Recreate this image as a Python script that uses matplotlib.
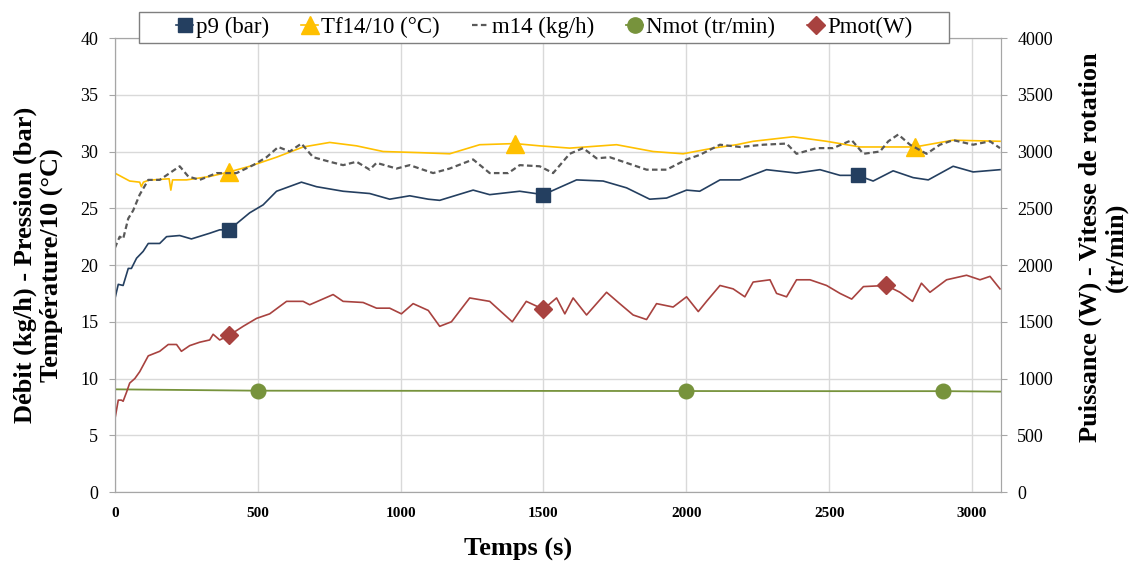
import numpy as np
import matplotlib
matplotlib.use("Agg")
import matplotlib.pyplot as plt
from matplotlib.lines import Line2D
from matplotlib.patches import Rectangle

plt.rcParams['font.family'] = ['Liberation Serif', 'DejaVu Serif']

# p9 (bar)
t_p9 = [0, 12, 29, 47, 58, 76, 99, 117, 157, 181, 227, 268, 332, 367, 400, 472, 519, 566, 653, 706,
        799, 892, 962, 1032, 1097, 1137, 1254, 1312, 1417, 1500, 1616, 1709, 1791, 1872, 1931, 2001,
        2047, 2118, 2188, 2281, 2386, 2468, 2538, 2600, 2654, 2724, 2794, 2847, 2934, 3004, 3098]
p9 = [17.0, 18.3, 18.2, 19.7, 19.7, 20.6, 21.2, 21.9, 21.9, 22.5, 22.6, 22.3, 22.8, 23.1, 23.1, 24.6,
      25.3, 26.5, 27.3, 26.9, 26.5, 26.3, 25.8, 26.1, 25.8, 25.7, 26.6, 26.2, 26.5, 26.2, 27.5, 27.4,
      26.8, 25.8, 25.9, 26.6, 26.5, 27.5, 27.5, 28.4, 28.1, 28.4, 27.9, 27.9, 27.4, 28.3, 27.7, 27.5,
      28.7, 28.2, 28.4]

# Tf14/10 (degC)
t_tf = [0, 52, 87, 93, 100, 122, 134, 190, 196, 202, 251, 332, 400, 472, 566, 659, 752, 846, 939,
        1067, 1172, 1277, 1400, 1487, 1592, 1756, 1884, 1989, 2094, 2176, 2234, 2374, 2491, 2608,
        2701, 2800, 2934, 3098]
tf = [28.1, 27.4, 27.3, 26.9, 27.3, 27.5, 27.5, 27.6, 26.6, 27.5, 27.5, 27.8, 28.2, 28.7, 29.5, 30.4,
      30.8, 30.5, 30.0, 29.9, 29.8, 30.6, 30.7, 30.5, 30.3, 30.6, 30.0, 29.8, 30.3, 30.6, 30.9, 31.3,
      30.9, 30.4, 30.4, 30.4, 31.0, 30.9]

# m14 (kg/h)
t_m14 = [0, 17, 29, 47, 64, 87, 117, 157, 192, 227, 257, 297, 356, 379, 426, 484, 531, 572, 612, 653,
         694, 752, 799, 846, 892, 916, 986, 1032, 1067, 1114, 1172, 1254, 1312, 1377, 1417, 1487,
         1534, 1592, 1639, 1686, 1732, 1791, 1861, 1931, 2001, 2047, 2118, 2188, 2270, 2351, 2386,
         2456, 2514, 2579, 2620, 2678, 2707, 2742, 2783, 2841, 2888, 2934, 3004, 3063, 3098]
m14 = [21.5, 22.5, 22.3, 24.1, 24.8, 26.2, 27.5, 27.5, 28.1, 28.7, 27.8, 27.5, 28.1, 28.1, 28.1, 28.8,
       29.5, 30.4, 30.0, 30.7, 29.5, 29.1, 28.8, 29.1, 28.4, 29.0, 28.5, 28.8, 28.5, 28.1, 28.5, 29.3,
       28.1, 28.1, 28.8, 28.7, 28.1, 29.8, 30.3, 29.4, 29.5, 29.0, 28.4, 28.4, 29.3, 29.7, 30.6, 30.4,
       30.6, 30.7, 29.8, 30.3, 30.3, 31.0, 29.8, 30.0, 30.9, 31.5, 30.6, 29.8, 30.6, 31.0, 30.6, 30.9,
       30.3]

# Nmot (tr/min)
t_nmot = [0, 500, 1000, 1500, 2000, 2500, 2900, 3100]
nmot = [905, 893, 892, 891, 890, 889, 889, 885]

# Pmot (W)
t_pmot = [0, 12, 23, 29, 41, 52, 70, 87, 117, 157, 187, 216, 233, 262, 297, 332, 344, 367, 400, 449,
          496, 542, 601, 659, 682, 764, 799, 869, 916, 962, 1003, 1044, 1097, 1137, 1178, 1242, 1312,
          1347, 1391, 1440, 1500, 1546, 1575, 1604, 1651, 1721, 1767, 1814, 1861, 1896, 1954, 2001,
          2042, 2071, 2118, 2164, 2205, 2234, 2293, 2316, 2351, 2386, 2433, 2491, 2538, 2579, 2620,
          2700, 2748, 2792, 2823, 2853, 2911, 2981, 3028, 3063, 3098]
pmot = [640, 810, 810, 800, 880, 960, 1000, 1060, 1200, 1240, 1300, 1300, 1240, 1290, 1320, 1340, 1390,
        1340, 1380, 1460, 1530, 1570, 1680, 1680, 1650, 1740, 1680, 1670, 1620, 1620, 1570, 1660, 1600,
        1460, 1500, 1710, 1680, 1600, 1500, 1680, 1610, 1710, 1570, 1710, 1560, 1760, 1660, 1560, 1520,
        1660, 1630, 1720, 1590, 1680, 1820, 1790, 1720, 1850, 1870, 1750, 1720, 1870, 1870, 1820, 1750,
        1700, 1810, 1820, 1760, 1680, 1840, 1760, 1870, 1910, 1870, 1900, 1790]

# where Excel put the markers
mk_p9 = [400, 1500, 2600]
mk_tf = [400, 1400, 2800]
mk_nmot = [500, 2000, 2900]
mk_pmot = [400, 1500, 2700]

c_p9 = '#243f60'
c_tf = '#ffc000'
c_m14 = '#595959'
c_nmot = '#77933c'
c_pmot = '#a8423f'
grid_c = '#d9d9d9'
dash = (0, (2.5, 1.5))

fig = plt.figure(figsize=(11.37, 5.63), dpi=100)
ax = fig.add_axes([0.101, 0.126, 0.779, 0.8065])
ax2 = ax.twinx()

ax.plot(t_p9, p9, color=c_p9, lw=1.2, marker='s', ms=10,
        markevery=[t_p9.index(t) for t in mk_p9], zorder=4)
ax.plot(t_tf, tf, color=c_tf, lw=1.2, marker='^', ms=13,
        markevery=[t_tf.index(t) for t in mk_tf], zorder=3)
ax.plot(t_m14, m14, color=c_m14, lw=1.6, ls=dash, zorder=3)
ax2.plot(t_nmot, nmot, color=c_nmot, lw=1.3, marker='o', ms=10.5,
         markevery=[t_nmot.index(t) for t in mk_nmot])
ax2.plot(t_pmot, pmot, color=c_pmot, lw=1.2, marker='D', ms=9,
         markevery=[t_pmot.index(t) for t in mk_pmot])

ax.set_xlim(0, 3100)
ax.set_ylim(0, 40)
ax2.set_ylim(0, 4000)
ax.set_xticks(np.arange(0, 3001, 500))
ax.set_yticks(np.arange(0, 41, 5))
ax2.set_yticks(np.arange(0, 4001, 500))
ax.grid(True, color=grid_c, lw=1)
ax.set_axisbelow(True)

for a in (ax, ax2):
    for s in a.spines.values():
        s.set_color('#a6a6a6')
ax.tick_params(axis='y', labelsize=13, length=4, color='#a6a6a6', pad=8)
ax.tick_params(axis='x', length=0, pad=11)
ax2.tick_params(axis='y', labelsize=13, length=4, color='#a6a6a6', pad=8)
for lab in ax.get_xticklabels():
    lab.set_fontweight('bold')
    lab.set_fontsize(11)

ax.set_xlabel('Temps (s)', fontsize=19, fontweight='bold')
ax.xaxis.set_label_coords(0.455, -0.10)
ax.set_ylabel('Débit (kg/h) - Pression (bar)\nTempérature/10 (°C)', fontsize=19,
              fontweight='bold', linespacing=1.15)
ax.yaxis.set_label_coords(-0.058, 0.5)
ax2.set_ylabel('Puissance (W) - Vitesse de rotation\n(tr/min)', fontsize=19,
               fontweight='bold', linespacing=1.15)
ax2.yaxis.set_label_coords(1.088, 0.54)

# legend box (white, over the top of the plot area)
fig.patches.append(Rectangle((0.1223, 0.9236), 0.7124, 0.0551, transform=fig.transFigure,
                             facecolor='white', edgecolor='#7f7f7f', lw=1, zorder=5))
handles = [
    Line2D([], [], color=c_p9, lw=1.2, marker='s', ms=10),
    Line2D([], [], color=c_tf, lw=1.2, marker='^', ms=13),
    Line2D([], [], color=c_m14, lw=1.6, ls=dash),
    Line2D([], [], color=c_nmot, lw=1.3, marker='o', ms=11),
    Line2D([], [], color=c_pmot, lw=1.2, marker='D', ms=9),
]
labels = ['p9 (bar)', 'Tf14/10 (°C)', 'm14 (kg/h)', 'Nmot (tr/min)', 'Pmot(W)']
leg = fig.legend(handles, labels, loc='center', bbox_to_anchor=(0.4785, 0.9512), ncol=5,
                 fontsize=16.5, handlelength=0.75, handletextpad=0.12, columnspacing=1.4,
                 frameon=False, borderpad=0)
leg.set_zorder(6)

fig.savefig('out.png', dpi=100)
